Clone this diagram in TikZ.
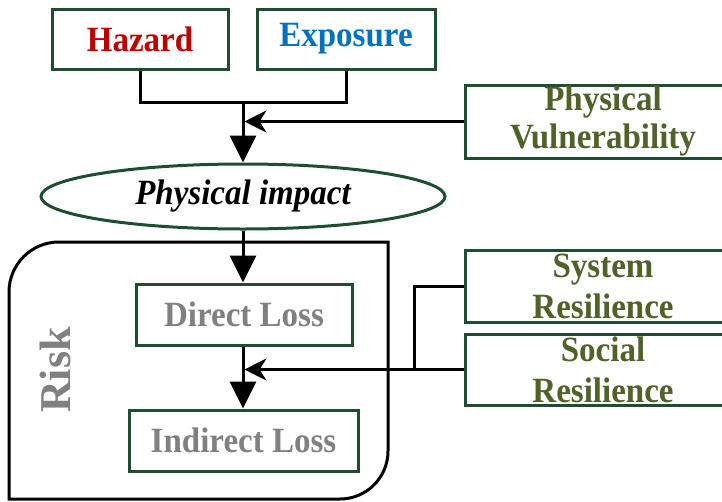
\documentclass[tikz,border=0pt]{standalone}
\usepackage{fontspec}
\setmainfont{Liberation Serif}[FakeStretch=0.93]
\newfontfamily\riskfont{Liberation Serif}
\usetikzlibrary{arrows.meta,shapes.geometric}
\definecolor{boxgreen}{RGB}{30,78,48}
\definecolor{olive}{RGB}{79,98,40}
\definecolor{hazred}{RGB}{192,0,0}
\definecolor{expblue}{RGB}{0,112,192}
\definecolor{lossgray}{RGB}{128,128,128}
\begin{document}
\begin{tikzpicture}[x=1pt,y=1pt,
  box/.style={draw=boxgreen,line width=3pt,fill=white,inner sep=0pt,align=center,
    font=\fontsize{35.5}{38}\selectfont\bfseries},
  wide/.style={font=\fontsize{35.5}{41}\selectfont\bfseries},
  conn/.style={line width=3pt,black},
  downarrow/.style={conn,-{Triangle[width=26pt,length=27pt]}},
  leftarrow/.style={conn,-{Stealth[width=22pt,length=22pt,inset=7pt]}}]
\useasboundingbox (0,0) rectangle (722,-501);
\clip (0,0) rectangle (722,-501);
% top boxes
\node[box,minimum width=176pt,minimum height=60pt,text=hazred] (haz) at (140,-39) {Hazard};
\node[box,minimum width=178pt,minimum height=60pt,text=expblue] (exp) at (346,-39) {Exposure};
\node[box,minimum width=276pt,minimum height=73pt,text=olive] (pv) at (603,-121.5) {Physical\\Vulnerability};
% ellipse
\node[draw=boxgreen,line width=3pt,ellipse,minimum width=404pt,minimum height=65pt,inner sep=0pt,
  font=\fontsize{35.5}{38}\selectfont\bfseries\itshape] (imp) at (243,-196.5) {Physical impact};
% risk container
\draw[conn] (9,-499) -- (9,-292) arc[start angle=180,end angle=90,radius=50] -- (388,-242)
  -- (388,-451) arc[start angle=0,end angle=-90,radius=48] -- cycle;
\node[rotate=90,text=lossgray,font=\riskfont\fontsize{44}{48}\selectfont\bfseries] (risk) at (55,-370) {Risk};
% loss boxes
\node[box,minimum width=216pt,minimum height=61pt,text=lossgray] (dl) at (244,-314.5) {Direct Loss};
\node[box,minimum width=229pt,minimum height=61pt,text=lossgray] (il) at (243.5,-440.5) {Indirect Loss};
% resilience boxes
\node[box,wide,minimum width=276pt,minimum height=72pt,text=olive] (sys) at (603,-286) {System\\Resilience};
\node[box,wide,minimum width=276pt,minimum height=71pt,text=olive] (soc) at (603,-369.5) {Social\\Resilience};
% connectors
\coordinate (j) at (243,-102);
\coordinate (m) at (414,-369.5);
\draw[conn] (haz.south) |- (j) -| (exp.south);
\draw[downarrow] (j) -- (imp.north);
\draw[leftarrow] (pv.west) -- ([xshift=1.5pt]pv.west -| j);
\draw[downarrow] (imp.south) -- (imp.south |- dl.north);
\draw[downarrow] (dl.south -| imp.south) -- (imp.south |- il.north);
\draw[conn] (sys.west) -| (m);
\draw[leftarrow] (soc.west) -- ([xshift=1.5pt]soc.west -| j);
\end{tikzpicture}
\end{document}
